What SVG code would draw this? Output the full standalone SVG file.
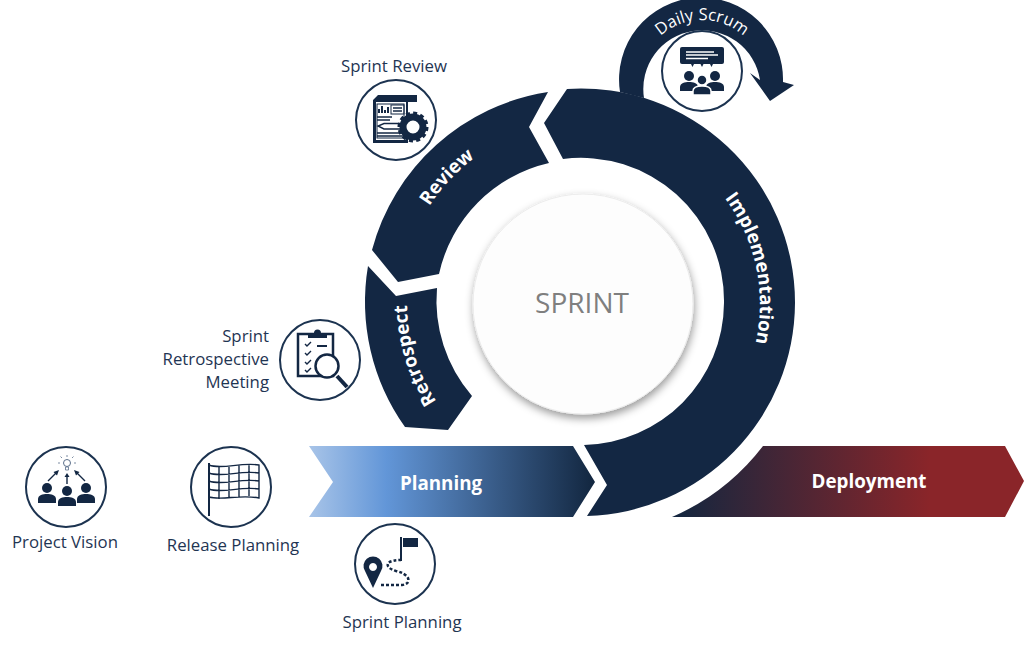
<svg xmlns="http://www.w3.org/2000/svg" xmlns:xlink="http://www.w3.org/1999/xlink" width="1024" height="646" viewBox="0 0 1024 646">
<style>
text{font-family:"Open Sans","Noto Sans","Liberation Sans",sans-serif}
.band{fill:#132743}
.ring{fill:#fff;stroke:#1c3350;stroke-width:2}
.lab{font-size:16.800px;fill:#1f3553}
.mid{text-anchor:middle}
.end{text-anchor:end}
.w{font-size:18.800px;font-weight:700;fill:#fff}
.ic{fill:#132743}
.il{fill:none;stroke:#132743;stroke-width:2}
.il1{fill:none;stroke:#132743;stroke-width:1.400}
.wl{fill:none;stroke:#fff;stroke-width:1.300}
</style>
<defs>
<linearGradient id="gp" gradientUnits="userSpaceOnUse" x1="309" y1="0" x2="595" y2="0"><stop offset="0" stop-color="#a8c4e8"/><stop offset="0.27" stop-color="#6296d8"/><stop offset="1" stop-color="#12263f"/></linearGradient>
<linearGradient id="gd" gradientUnits="userSpaceOnUse" x1="672" y1="0" x2="930" y2="0"><stop offset="0" stop-color="#12263f"/><stop offset="1" stop-color="#8a2529"/></linearGradient>
<filter id="sh" x="-20%" y="-20%" width="140%" height="140%"><feDropShadow dx="1" dy="4" stdDeviation="4" flood-color="#000" flood-opacity="0.4"/></filter>
<g id="person"><circle cx="0" cy="0" r="5"/><path d="M-9,15 V11 C-9,7 -4,6 0,6 C4,6 9,7 9,11 V15 Z"/></g>
<path id="tImpl" d="M637.700,135.700 A177,177 0 0 1 701.400,435.500"/>
<path id="tRev" d="M409.900,356.900 A180,180 0 0 1 623.700,127.600"/>
<path id="tRet" d="M543.400,475.500 A176,176 0 0 1 454.300,184"/>
<path id="tDaily" d="M640,82 A62,62 0 0 1 764,82"/>
</defs>

<g id="deployment">
<path d="M672,517 A230,230 0 0 0 763,446 H1005 L1024,481 L1005,517 Z" fill="url(#gd)"/>
<text class="w mid" x="869" y="488">Deployment</text>
</g>
<g id="planning">
<path d="M309,446 H573 L595,482 L573,517 H309 L333,482 Z" fill="url(#gp)"/>
<text class="w mid" x="441" y="490">Planning</text>
</g>
<g id="connectors">
<path id="daily-arrow" class="band" d="M620,92 A82,82 0 1 1 783,82 L794,85 L770,101 L750,73 L760,80 A58,58 0 1 0 644,98 Z"/>
<text font-size="16.500" fill="#fff"><textPath xlink:href="#tDaily" href="#tDaily" startOffset="50%" text-anchor="middle">Daily Scrum</textPath></text>
</g>
<g id="implementation">
<path class="band" d="M567,89 A214,214 0 0 1 795,303 A214,214 0 0 1 587,516 L607,485 L584,445 A143,143 0 0 0 724,303 A143,143 0 0 0 563,159 L544,123 Z"/>
<text class="w"><textPath xlink:href="#tImpl" href="#tImpl" startOffset="50%" text-anchor="middle">Implementation</textPath></text>
</g>
<g id="review">
<path class="band" d="M548,92 A216,216 0 0 0 372,250 L398,282 L439,274 A146,146 0 0 1 549,163 L529,127 Z"/>
<text class="w"><textPath xlink:href="#tRev" href="#tRev" startOffset="50%" text-anchor="middle">Review</textPath></text>
</g>
<g id="retrospect">
<path class="band" d="M368,266 L396,296 L437,288 A146,146 0 0 0 472,396 L448,430 L405,427 A216,216 0 0 1 368,266 Z"/>
<text class="w"><textPath xlink:href="#tRet" href="#tRet" startOffset="50%" text-anchor="middle">Retrospect</textPath></text>
</g>
<g id="sprint">
<circle cx="583" cy="304" r="110" fill="#fdfdfd" stroke="#ececec" filter="url(#sh)"/>
<text class="mid" x="582" y="313" font-size="28" fill="#7f7f7f">SPRINT</text>
</g>

<g id="daily-scrum">
<circle class="ring" cx="702" cy="71" r="40"/>
<path class="ic" d="M682,47 H722 Q724,47 724,49 V62 Q724,64 722,64 H682 Q680,64 680,62 V49 Q680,47 682,47 Z"/>
<path class="wl" d="M686,52 H714 M686,55 H718 M686,58.500 H708"/>
<path class="ic" d="M691,64 h3 l-1.500,3 Z M700.500,64 h3 l-1.500,3 Z M710,64 h3 l-1.500,3 Z"/>
<use href="#person" x="689" y="76" class="ic"/><use href="#person" x="715" y="76" class="ic"/>
<g stroke="#fff" stroke-width="1.500"><use href="#person" x="702" y="80" class="ic"/></g>
</g>

<g id="sprint-review">
<text class="lab mid" x="394" y="72">Sprint Review</text>
<circle class="ring" cx="396" cy="120" r="40"/>
<path class="ic" d="M378,95 H417 V102 H408 V143 H373 V100 Z"/>
<rect x="376" y="102" width="30" height="38" fill="#fff"/>
<rect x="377" y="104" width="27" height="34" fill="none" stroke="#132743"/>
<path class="ic" d="M378,113 h2 v-4 h-2 z M381,113 h2 v-7 h-2 z M384,113 h2 v-3 h-2 z M387,113 h2 v-6 h-2 z"/>
<rect x="391" y="105" width="13" height="9" fill="none" stroke="#132743"/>
<path class="il1" d="M393,108 H402 M393,111 H402 M377,117 H392 M377,120 H390 M377,133 H404 M377,136 H404"/>
<path class="il1" d="M384,123.500 H402 V129 H384 L378,126 Z"/>
<circle cx="413" cy="127" r="10" fill="#fff" stroke="#132743" stroke-width="7"/>
<circle cx="413" cy="127" r="14" fill="none" stroke="#132743" stroke-width="3" stroke-dasharray="4 3.300"/>
</g>

<g id="sprint-retrospective">
<text class="lab end" x="269" y="342">Sprint</text>
<text class="lab end" x="269" y="365">Retrospective</text>
<text class="lab end" x="269" y="388">Meeting</text>
<circle class="ring" cx="320" cy="360" r="40"/>
<rect x="298" y="334" width="35" height="42" fill="#fff" stroke="#132743" stroke-width="2.500"/>
<path class="ic" d="M308,338 V333 H314 A3,3 0 0 1 321,333 H327 V338 Z"/>
<path class="il1" d="M305,344 l2,2 l4,-4 M305,353 l2,2 l4,-4 M305,362 l2,2 l4,-4 M305,370 l2,2 l4,-4"/>
<path class="il" d="M317,346 H327"/>
<path d="M337,376 L347,387" stroke="#132743" stroke-width="4" fill="none"/>
<circle cx="327" cy="366" r="11.500" fill="#fff" stroke="#132743" stroke-width="2.500"/>
</g>

<g id="project-vision">
<text class="lab mid" x="65" y="548">Project Vision</text>
<circle class="ring" cx="66" cy="487" r="40"/>
<use href="#person" x="47" y="488" class="ic"/><use href="#person" x="67" y="491" class="ic"/><use href="#person" x="86" y="488" class="ic"/>
<circle cx="67" cy="463" r="3.500" fill="none" stroke="#5b6f8a"/>
<path d="M65.500,467 H68.500 V470 H65.500 Z M60,463 H58 M74,463 H76 M62,458 L60.500,456.500 M72,458 L73.500,456.500 M67,457 V455" fill="none" stroke="#5b6f8a" stroke-width="0.800"/>
<path class="il1" d="M48,481 L57,472 M67,484 V476 M85,481 L76,472"/>
<path class="ic" d="M59,470 L53.500,472 L57,475.500 Z M74,470 L79.500,472 L76,475.500 Z M67,473 L64.500,477 H69.500 Z"/>
</g>

<g id="release-planning">
<text class="lab mid" x="233" y="551">Release Planning</text>
<circle class="ring" cx="231" cy="487" r="40"/>
<path class="il" d="M209,463 V516"/>
<path class="il1" d="M209,465 C222,470 240,462 259,465 V498 C240,494 222,501 209,497 Z M209,473 C222,478 240,470 259,473 M209,481 C222,486 240,478 259,481 M209,489 C222,494 240,486 259,489 M219,467 V499 M229,466 V498 M239,465 V497 M249,464 V496"/>
</g>

<g id="sprint-planning">
<circle class="ring" cx="395" cy="564" r="40"/>
<path class="ic" fill-rule="evenodd" d="M373,588 L365,571 A9.500,9.500 0 1 1 381,571 Z M373,563 a4,4 0 1 0 0.010,0 Z"/>
<path class="il" d="M401,537 V561"/>
<rect class="ic" x="403" y="538" width="15" height="9"/>
<path d="M381,585 H402 Q410,584 408,578 Q405,573 396,571 Q386,568 388,563 Q392,560 401,560" fill="none" stroke="#132743" stroke-width="2.500" stroke-dasharray="3 2"/>
<text class="lab mid" x="402" y="628">Sprint Planning</text>
</g>
</svg>
